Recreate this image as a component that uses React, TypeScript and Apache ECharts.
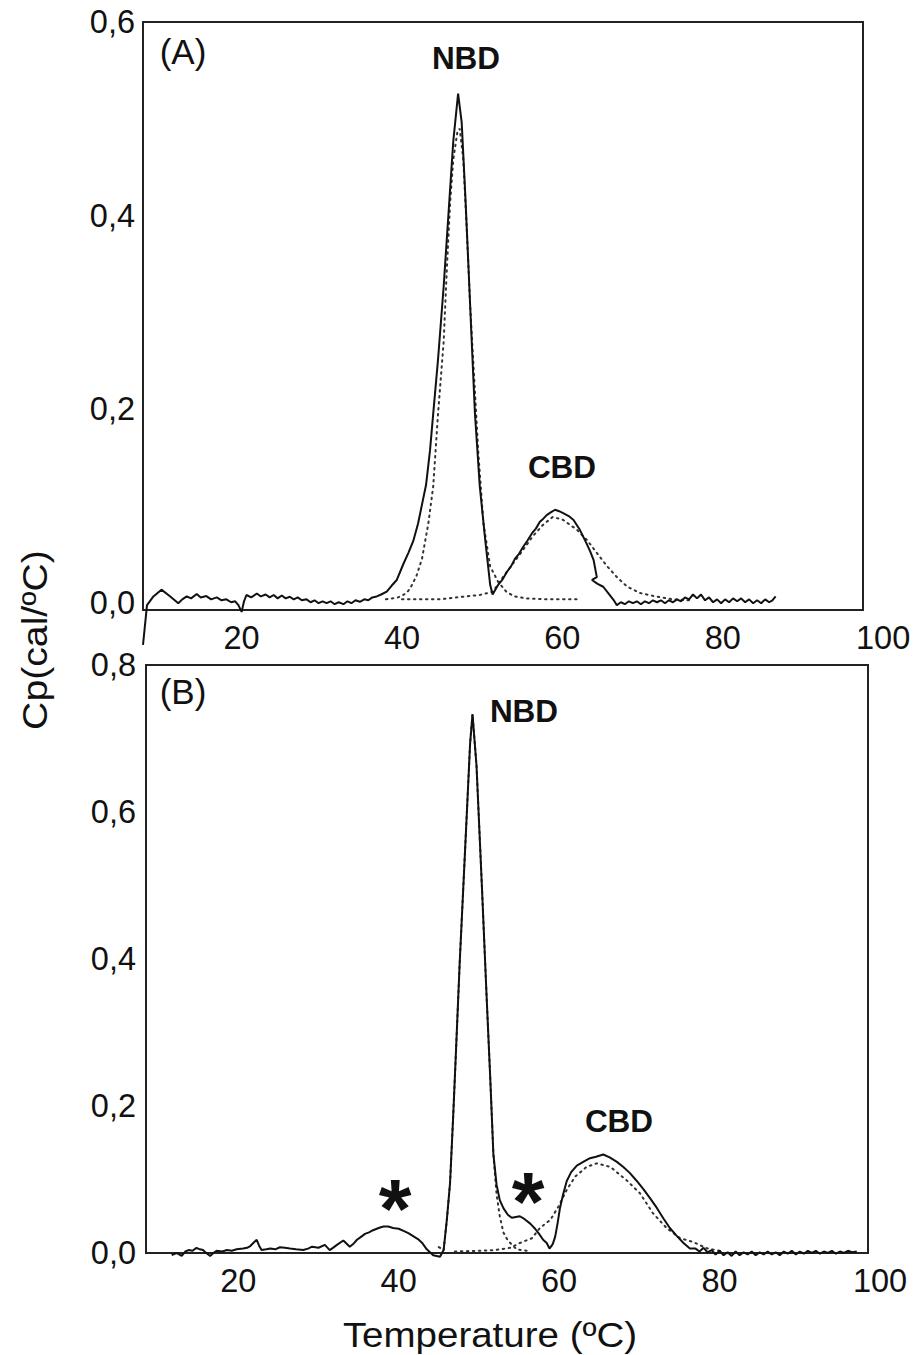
import React, { useEffect, useRef } from "react";
import * as echarts from "echarts";

// ---------- Panel A ----------
const solidA_T = [
  7.7, 8.2, 9.0, 10.0, 11.1, 12.1, 12.6, 13.15, 13.7, 14.4, 14.9, 15.6, 16.2, 16.9, 17.5, 18.1, 18.7, 19.2, 19.6, 20.0,
  20.3, 20.6, 21.2, 21.9, 22.4, 23.0, 23.5, 24.0, 24.5, 25.0, 25.5, 26.0, 26.5, 27.0, 27.5, 28.1, 28.6, 29.1, 29.6, 30.1,
  30.6, 31.1, 31.6, 32.1, 32.7, 33.2, 33.7, 34.2, 34.75, 35.3, 35.8, 36.3, 36.85, 37.4, 38.1, 38.7, 39.35, 39.8, 40.2, 40.8,
  41.4, 42.0, 42.5, 43.0, 43.5, 43.9, 44.5, 45.2, 45.8, 46.4, 47.0, 47.45, 47.9, 48.3, 48.7, 49.1, 49.7, 50.4, 51.0, 51.3,
  52.0, 52.5, 53.1, 53.6, 54.1, 54.6, 55.1, 55.6, 56.2, 56.7, 57.2, 57.6, 58.05, 58.6, 59.1, 59.6, 60.1, 60.8, 61.4, 62.2,
  63.0, 63.5, 63.9, 64.3, 63.7, 64.4, 65.1, 65.75, 66.4, 66.8, 67.3, 67.8, 68.3, 68.8, 69.3, 69.8, 70.3, 70.8, 71.3, 71.8,
  72.3, 72.8, 73.3, 73.8, 74.3, 74.8, 75.3, 75.8, 76.3, 76.8, 77.3, 77.8, 78.3, 78.8, 79.3, 79.8, 80.3, 80.8, 81.3, 81.8,
  82.3, 82.8, 83.3, 83.8, 84.3, 84.8, 85.3, 85.8, 86.2, 86.6,
];
const solidA_Cp = [
  -0.043, -0.002, 0.007, 0.014, 0.007, 0.0, 0.004, 0.007, 0.005, 0.0095, 0.006, 0.0074, 0.004, 0.006, 0.003, 0.004, 0.001, 0.002, -0.002, -0.009,
  0.002, 0.0085, 0.006, 0.01, 0.007, 0.009, 0.006, 0.0085, 0.005, 0.008, 0.005, 0.0067, 0.004, 0.006, 0.003, 0.004, 0.001, 0.003, 0.0, 0.002,
  0.0, 0.002, -0.001, 0.001, -0.001, 0.002, 0.0, 0.003, 0.0015, 0.004, 0.003, 0.006, 0.007, 0.009, 0.012, 0.018, 0.024, 0.033, 0.041, 0.052,
  0.064, 0.082, 0.102, 0.122, 0.158, 0.196, 0.252, 0.327, 0.402, 0.477, 0.526, 0.496, 0.421, 0.346, 0.27, 0.196, 0.121, 0.064, 0.019, 0.009,
  0.019, 0.024, 0.0325, 0.038, 0.046, 0.051, 0.058, 0.064, 0.072, 0.077, 0.084, 0.087, 0.091, 0.094, 0.0965, 0.095, 0.093, 0.09, 0.086, 0.0755,
  0.062, 0.053, 0.0446, 0.027, 0.024, 0.02, 0.017, 0.0102, 0.0033, -0.002, 0.001, -0.001, 0.002, 0.0, 0.002, -0.001, 0.002, 0.0, 0.003, 0.001,
  0.003, 0.0, 0.003, 0.001, 0.004, 0.002, 0.006, 0.004, 0.009, 0.005, 0.009, 0.003, 0.006, 0.001, 0.004, 0.0, 0.004, 0.001, 0.005, 0.002,
  0.005, 0.001, 0.004, 0.0, 0.003, 0.0, 0.004, 0.001, 0.003, 0.007,
];
const fitNbdA_T = [38.0, 39.5, 40.5, 41.0, 41.8, 42.5, 43.3, 43.9, 44.5, 45.2, 45.6, 46.0, 46.4, 46.9, 47.2, 47.65, 48.1, 48.5, 49.0, 49.5, 50.15, 51.0, 52.0, 53.0, 54.0, 55.5, 58.0, 62.0];
const fitNbdA_Cp = [0.004, 0.006, 0.01, 0.015, 0.028, 0.046, 0.083, 0.121, 0.196, 0.27, 0.346, 0.413, 0.458, 0.486, 0.49, 0.458, 0.383, 0.308, 0.233, 0.158, 0.083, 0.038, 0.022, 0.012, 0.007, 0.005, 0.004, 0.004];
const fitCbdA_T = [40.0, 44.7, 47.2, 49.7, 51.35, 52.6, 53.85, 55.1, 56.3, 57.6, 58.8, 60.1, 61.8, 63.1, 64.3, 65.6, 66.8, 68.1, 69.7, 71.8, 73.8, 76.0];
const fitCbdA_Cp = [0.004, 0.004, 0.0064, 0.0085, 0.0119, 0.027, 0.041, 0.055, 0.069, 0.081, 0.089, 0.086, 0.076, 0.065, 0.052, 0.038, 0.027, 0.017, 0.0105, 0.0067, 0.004, 0.003];

// ---------- Panel B ----------
const solidB_T = [
  11.7, 12.3, 12.95, 13.4, 13.8, 14.3, 14.8, 15.2, 15.6, 16.0, 16.5, 16.9, 17.3, 18.0, 18.6, 19.2, 19.8, 20.6, 21.1, 21.5,
  21.9, 22.3, 22.6, 22.9, 23.5, 24.0, 24.6, 25.2, 25.8, 26.45, 27.2, 28.1, 28.7, 29.2, 30.0, 30.8, 31.4, 31.8, 32.3, 33.1,
  33.9, 34.4, 34.8, 35.3, 35.8, 36.3, 36.8, 37.5, 38.1, 38.7, 39.3, 40.0, 40.6, 41.2, 41.8, 42.4, 42.9, 43.5, 44.3, 45.15,
  45.6, 46.0, 46.4, 46.8, 47.2, 47.6, 48.05, 48.5, 48.9, 49.2, 49.7, 50.35, 50.97, 51.4, 51.8, 52.2, 52.6, 53.05, 53.6, 54.1,
  54.6, 55.1, 55.7, 56.4, 57.0, 57.5, 58.0, 58.45, 58.8, 59.2, 59.5, 59.8, 60.1, 60.5, 60.95, 61.5, 62.2, 63.0, 63.85, 64.6,
  65.5, 66.3, 67.2, 68.0, 68.8, 69.6, 70.5, 71.3, 72.2, 73.0, 73.8, 74.6, 75.5, 76.3, 77.0, 77.5, 78.0, 78.5, 79.0, 79.5,
  80.0, 80.5, 81.0, 81.5, 82.0, 82.5, 83.0, 83.5, 84.0, 84.5, 85.0, 85.5, 86.0, 86.5, 87.0, 87.5, 88.0, 88.5, 89.0, 89.5,
  90.0, 90.5, 91.0, 91.5, 92.0, 92.5, 93.0, 93.5, 94.0, 94.5, 95.0, 95.5, 96.0, 96.5, 97.1,
];
const solidB_Cp = [
  -0.003, 0.0, -0.004, 0.002, 0.004, 0.003, 0.007, 0.005, 0.004, 0.0, -0.004, 0.0, 0.003, 0.002, 0.004, 0.003, 0.005, 0.006, 0.007, 0.0095,
  0.014, 0.018, 0.01, 0.004, 0.005, 0.006, 0.005, 0.0078, 0.007, 0.006, 0.005, 0.004, 0.006, 0.0086, 0.0072, 0.011, 0.004, 0.007, 0.011, 0.017,
  0.0086, 0.013, 0.018, 0.022, 0.026, 0.028, 0.031, 0.034, 0.036, 0.036, 0.034, 0.033, 0.03, 0.027, 0.023, 0.019, 0.014, 0.005, -0.003, -0.005,
  0.004, 0.045, 0.095, 0.188, 0.29, 0.394, 0.497, 0.6, 0.693, 0.733, 0.663, 0.504, 0.346, 0.241, 0.135, 0.093, 0.072, 0.061, 0.052, 0.048,
  0.049, 0.05, 0.046, 0.04, 0.033, 0.026, 0.018, 0.0136, 0.006, 0.012, 0.022, 0.04, 0.061, 0.08, 0.098, 0.11, 0.119, 0.124, 0.129, 0.131,
  0.134, 0.13, 0.124, 0.117, 0.109, 0.099, 0.087, 0.075, 0.061, 0.047, 0.034, 0.024, 0.0136, 0.006, 0.006, 0.002, 0.007, 0.001, 0.004, -0.002,
  0.003, -0.003, 0.001, -0.004, 0.002, -0.003, 0.001, -0.002, 0.002, -0.003, 0.001, -0.002, 0.002, -0.002, 0.001, -0.003, 0.002, -0.001, 0.003, -0.002,
  0.002, -0.001, 0.003, 0.0, 0.003, -0.001, 0.002, 0.0, 0.003, -0.001, 0.002, 0.0, 0.003, 0.001, 0.002,
];
const fitNbdB_T = [45.0, 45.6, 46.0, 46.4, 46.8, 47.2, 47.6, 48.05, 48.5, 48.9, 49.2, 49.7, 50.35, 50.97, 51.4, 51.8, 52.2, 52.6, 53.05, 53.5, 53.9, 54.7, 56.0];
const fitNbdB_Cp = [0.008, 0.004, 0.045, 0.095, 0.188, 0.29, 0.394, 0.497, 0.6, 0.693, 0.733, 0.663, 0.504, 0.346, 0.241, 0.135, 0.08, 0.05, 0.028, 0.019, 0.0136, 0.005, 0.003];
const fitCbdB_T = [47.0, 50.0, 52.0, 53.9, 55.1, 56.6, 57.6, 58.9, 59.9, 60.95, 62.0, 63.4, 64.7, 66.4, 68.4, 70.1, 71.7, 73.4, 75.1, 76.7, 78.4, 80.0];
const fitCbdB_Cp = [0.002, 0.003, 0.004, 0.007, 0.0136, 0.02, 0.034, 0.045, 0.063, 0.086, 0.104, 0.117, 0.122, 0.117, 0.099, 0.081, 0.054, 0.034, 0.02, 0.015, 0.0064, 0.003];

// ---------- Axis ticks ----------
const xTicks = [20, 40, 60, 80, 100];
const yTicksA = [0, 0.2, 0.4, 0.6];
const yTicksB = [0, 0.2, 0.4, 0.6, 0.8];

const zip = (xs: number[], ys: number[]) => xs.map((x, i) => [x, ys[i]]);

export default function App() {
  const ref = useRef<HTMLDivElement>(null);
  useEffect(() => {
    document.body.style.margin = "0";
    const chart = echarts.init(ref.current!, null, { renderer: "svg" });
    const font = "'Liberation Sans', Arial, Helvetica, sans-serif";
    const fmt = (v: number) => v.toFixed(1).replace(".", ",");
    const ink = "#111";
    const hidden = { show: false };
    const labelStyle = { fontSize: 32.5, color: ink, fontFamily: font };
    const solid = { color: ink, width: 2 };
    const dotted = { color: "#333", width: 2, type: [1.5, 4.5], cap: "round" };
    const txt = (x: number, y: number, text: string, size: number, bold = false, rot = 0, sx = 1) => ({
      type: "text",
      x,
      y,
      rotation: rot,
      scaleX: sx,
      style: {
        text,
        fontSize: size,
        fontFamily: font,
        fontWeight: bold ? "bold" : "normal",
        fill: ink,
        align: "center",
        verticalAlign: "middle",
      },
    });

    chart.setOption({
      animation: false,
      backgroundColor: "#ffffff",
      grid: [
        { left: 143, top: 22, width: 720, height: 588, show: true, borderColor: "#222", borderWidth: 2 },
        { left: 143, top: 22, width: 744.1, height: 588, show: false },
        { left: 146, top: 665, width: 722, height: 588, show: true, borderColor: "#222", borderWidth: 2 },
        { left: 146, top: 665, width: 738, height: 588, show: false },
      ],
      xAxis: [
        { gridIndex: 0, type: "value", min: 7.7, max: 97.5, axisLine: hidden, axisTick: hidden, axisLabel: hidden, splitLine: hidden },
        {
          gridIndex: 1, type: "value", min: 7.7, max: 100.5, axisLine: hidden, axisTick: hidden, splitLine: hidden,
          axisLabel: { ...labelStyle, customValues: xTicks, margin: 11 },
        },
        { gridIndex: 2, type: "value", min: 8.5, max: 98.5, axisLine: hidden, axisTick: hidden, axisLabel: hidden, splitLine: hidden },
        {
          gridIndex: 3, type: "value", min: 8.5, max: 100.5, axisLine: hidden, axisTick: hidden, splitLine: hidden,
          axisLabel: { ...labelStyle, customValues: xTicks, margin: 11 },
        },
      ],
      yAxis: [
        {
          gridIndex: 0, type: "value", min: -0.007, max: 0.6, axisLine: hidden, axisTick: hidden, splitLine: hidden,
          axisLabel: { ...labelStyle, customValues: yTicksA, formatter: fmt, margin: 8 },
        },
        { gridIndex: 1, type: "value", min: -0.007, max: 0.6, show: false },
        {
          gridIndex: 2, type: "value", min: 0, max: 0.8, axisLine: hidden, axisTick: hidden, splitLine: hidden,
          axisLabel: { ...labelStyle, customValues: yTicksB, formatter: fmt, margin: 10 },
        },
        { gridIndex: 3, type: "value", min: 0, max: 0.8, show: false },
      ],
      series: [
        { name: "fit NBD A", type: "line", xAxisIndex: 0, yAxisIndex: 0, data: zip(fitNbdA_T, fitNbdA_Cp), symbol: "none", lineStyle: dotted, z: 2 },
        { name: "fit CBD A", type: "line", xAxisIndex: 0, yAxisIndex: 0, data: zip(fitCbdA_T, fitCbdA_Cp), symbol: "none", lineStyle: dotted, z: 2 },
        { name: "Cp A", type: "line", xAxisIndex: 0, yAxisIndex: 0, data: zip(solidA_T, solidA_Cp), symbol: "none", lineStyle: solid, clip: false, z: 3 },
        { name: "fit NBD B", type: "line", xAxisIndex: 2, yAxisIndex: 2, data: zip(fitNbdB_T, fitNbdB_Cp), symbol: "none", lineStyle: dotted, z: 2 },
        { name: "fit CBD B", type: "line", xAxisIndex: 2, yAxisIndex: 2, data: zip(fitCbdB_T, fitCbdB_Cp), symbol: "none", lineStyle: dotted, z: 2 },
        { name: "Cp B", type: "line", xAxisIndex: 2, yAxisIndex: 2, data: zip(solidB_T, solidB_Cp), symbol: "none", lineStyle: solid, clip: false, z: 3 },
      ],
      graphic: [
        txt(183, 51, "(A)", 35),
        txt(183, 691, "(B)", 35),
        txt(466, 58, "NBD", 31.5, true),
        txt(562, 467, "CBD", 31.5, true),
        txt(524, 711, "NBD", 31.5, true),
        txt(619, 1121, "CBD", 31.5, true),
        txt(395, 1209, "*", 84, true),
        txt(528, 1202, "*", 84, true),
        txt(490, 1335, "Temperature (ºC)", 35, false, 0, 1.1),
        txt(35, 640, "Cp(cal/ºC)", 35, false, Math.PI / 2, 1.12),
      ],
    });
    return () => chart.dispose();
  }, []);
  return <div ref={ref} style={{ width: 918, height: 1355 }} />;
}
